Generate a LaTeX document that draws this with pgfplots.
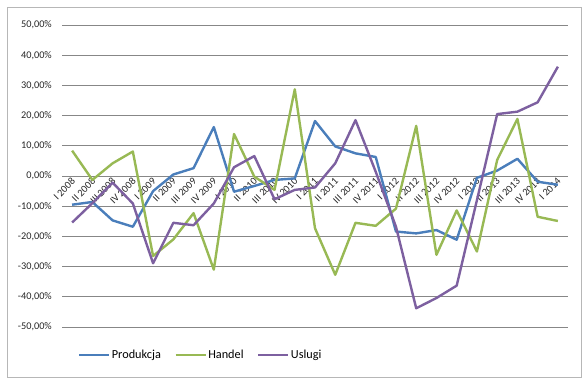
\documentclass[border=0pt]{standalone}
\usepackage{fontspec}
\setmainfont{Carlito}
\usepackage{pgfplots}
\pgfplotsset{compat=1.18}
\definecolor{cBlue}{HTML}{4A7EBB}
\definecolor{cGreen}{HTML}{98B954}
\definecolor{cPurple}{HTML}{7D60A0}
\definecolor{cGrid}{HTML}{878787}
\begin{document}
\begin{tikzpicture}[x=1bp,y=1bp]
\useasboundingbox (0,0) rectangle (582,378);
\draw[cGrid!60, line width=0.8bp] (7,1) rectangle (581.5,371);
\begin{axis}[
  at={(62bp,51bp)}, anchor=south west,
  scale only axis, width=506bp, height=302bp,
  xmin=-0.5, xmax=24.5, ymin=-50, ymax=50,
  axis line style={draw=none},
  major tick length=0pt,
  ymajorgrids, grid style={cGrid, line width=0.9bp},
  ytick={-50,-40,...,50},
  yticklabels={{-50,00\%},{-40,00\%},{-30,00\%},{-20,00\%},{-10,00\%},{0,00\%},{10,00\%},{20,00\%},{30,00\%},{40,00\%},{50,00\%}},
  yticklabel style={font=\fontsize{10.3}{12}\selectfont, anchor=east, inner sep=0pt, xshift=-10bp, text=black!85},
  xtick={0,...,24},
  xticklabels={I 2008,II 2008,III 2008,IV 2008,I 2009,II 2009,III 2009,IV 2009,I 2010,II 2010,III 2010,IV 2010,I 2011,II 2011,III 2011,IV 2011,I 2012,II 2012,III 2012,IV 2012,I 2013,II 2013,III 2013,IV 2013,I 2014},
  xticklabel style={font=\fontsize{10.3}{12}\selectfont, yshift=148bp, xshift=2bp, rotate=45, anchor=east, inner sep=1bp, text=black!85},
  legend columns=3,
  legend style={at={(0.0316,-0.093)}, anchor=west, draw=none, fill=none, inner sep=0pt, outer sep=0pt,
    font=\fontsize{12.3}{14}\selectfont, nodes={inner sep=1.5bp},
    /tikz/every even column/.append style={column sep=12bp}},
  legend image code/.code={\draw[#1] (0bp,0bp) -- (30bp,0bp);},
  every axis plot/.append style={line width=2.4bp, line join=round, no markers},
]
\addplot[cBlue] coordinates {
(0,-9.5)(1,-8.6)(2,-14.7)(3,-16.8)(4,-5.0)(5,0.5)(6,2.6)(7,16.2)(8,-5.2)(9,-3.3)(10,-1.3)(11,-0.8)
(12,18.2)(13,9.8)(14,7.5)(15,6.3)(16,-18.4)(17,-19.0)(18,-17.9)(19,-21.1)(20,-0.6)(21,1.8)(22,5.7)(23,-1.9)(24,-2.9)};
\addlegendentry{Produkcja}
\addplot[cGreen] coordinates {
(0,8.4)(1,-1.3)(2,4.2)(3,8.1)(4,-26.5)(5,-21.0)(6,-12.3)(7,-31.0)(8,13.9)(9,-0.2)(10,-4.6)(11,28.7)
(12,-17.3)(13,-32.7)(14,-15.5)(15,-16.5)(16,-10.8)(17,16.6)(18,-26.1)(19,-11.4)(20,-25.0)(21,5.3)(22,18.9)(23,-13.5)(24,-14.9)};
\addlegendentry{Handel}
\addplot[cPurple] coordinates {
(0,-15.4)(1,-9.0)(2,-2.2)(3,-9.1)(4,-28.9)(5,-15.5)(6,-16.3)(7,-9.1)(8,2.9)(9,6.6)(10,-7.7)(11,-4.6)
(12,-3.8)(13,4.2)(14,18.5)(15,1.4)(16,-16.8)(17,-43.8)(18,-40.4)(19,-36.3)(20,-8.0)(21,20.5)(22,21.3)(23,24.4)(24,36.2)};
\addlegendentry{Uslugi}
\end{axis}
\end{tikzpicture}
\end{document}
